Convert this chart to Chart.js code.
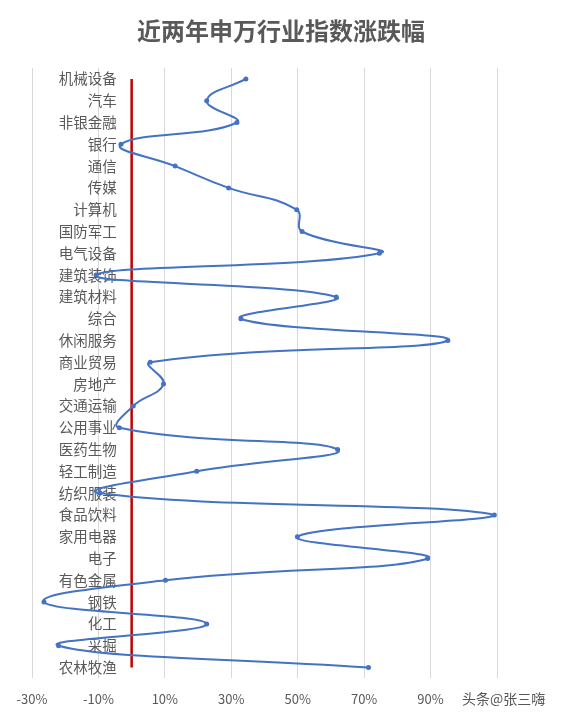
<!DOCTYPE html>
<html>
<head>
<meta charset="utf-8">
<script src="https://cdn.jsdelivr.net/npm/chart.js@4"></script>
<style>
  html, body { margin: 0; padding: 0; background: #fff; }
  #wrap { width: 562px; height: 716px; }
</style>
</head>
<body>
<div id="wrap"><canvas id="chgChart"></canvas></div>
<script>
const industries = ['机械设备', '汽车', '非银金融', '银行', '通信', '传媒', '计算机', '国防军工',
    '电气设备', '建筑装饰', '建筑材料', '综合', '休闲服务', '商业贸易', '房地产', '交通运输',
    '公用事业', '医药生物', '轻工制造', '纺织服装', '食品饮料', '家用电器', '电子', '有色金属',
    '钢铁', '化工', '采掘', '农林牧渔'];

// percent change over two years
const changes = [34.4, 22.6, 31.7, -3.2, 13.1, 29.2, 49.7, 51.3,
    74.6, -10.7, 61.6, 32.9, 95.2, 5.6, 9.6, 0.5,
    -3.7, 62.0, 19.6, -9.5, 109.2, 49.9, 89.1, 10.2,
    -26.4, 22.6, -22.0, 71.3];

const xTicks = [-30, -10, 10, 30, 50, 70, 90, 110];
const xTickLabels = ['-30%', '-10%', '10%', '30%', '50%', '70%', '90%', ''];

const FONT = '"Noto Sans CJK SC", "Noto Sans", sans-serif';
const TITLE = '近两年申万行业指数涨跌幅';

let zeroLine = [
    {x: 0, y: industries[0]},
    {x: 0, y: industries[industries.length - 1]}
];

// title centred on the whole canvas + watermark in the corner
const decorations = {
    id: 'decorations',
    afterDraw(chart) {
        let ctx = chart.ctx;
        ctx.save();
        ctx.font = 'bold 24px ' + FONT;
        ctx.fillStyle = '#595959';
        ctx.textAlign = 'center';
        ctx.textBaseline = 'middle';
        ctx.fillText(TITLE, chart.width / 2, 31);

        ctx.font = '14px ' + FONT;
        ctx.fillStyle = '#555';
        ctx.textAlign = 'left';
        ctx.shadowColor = 'rgba(255,255,255,0.9)';
        ctx.shadowBlur = 2;
        ctx.fillText('头条@张三嗨', 462, 699);
        ctx.restore();
    }
};

let chart = new Chart(document.getElementById('chgChart').getContext('2d'), {
    type: 'line',
    data: {
        labels: industries,
        datasets: [
            {
                label: '涨跌幅',
                data: changes,
                borderColor: '#4472C4',
                backgroundColor: '#4472C4',
                borderWidth: 2,
                pointRadius: 2.5,
                pointBorderWidth: 0,
                tension: 0.45,
                order: 0
            },
            {
                label: '零轴',
                data: zeroLine,
                borderColor: '#C00000',
                borderWidth: 2.5,
                pointRadius: 0,
                order: 1
            }
        ]
    },
    options: {
        indexAxis: 'y',
        responsive: true,
        maintainAspectRatio: false,
        animation: false,
        layout: {
            padding: {top: 68, left: 32, right: 65, bottom: -4}
        },
        plugins: {
            legend: {display: false},
            tooltip: {enabled: false},
            title: {display: false}
        },
        scales: {
            x: {
                type: 'linear',
                min: xTicks[0],
                max: xTicks[xTicks.length - 1],
                afterBuildTicks: axis => {
                    axis.ticks = xTicks.map(v => ({value: v}));
                },
                ticks: {
                    color: '#595959',
                    font: {family: FONT, size: 13},
                    padding: 13,
                    maxRotation: 0,
                    callback: (value, index) => xTickLabels[index]
                },
                grid: {
                    color: '#D9D9D9',
                    lineWidth: 1,
                    drawTicks: false
                },
                border: {display: false}
            },
            y: {
                type: 'category',
                // labels sit just left of the zero line
                position: {x: -4.5},
                offset: true,
                ticks: {
                    color: '#595959',
                    font: {family: FONT, size: 14.5},
                    autoSkip: false
                },
                grid: {display: false, drawTicks: false},
                border: {display: false}
            }
        }
    },
    plugins: [decorations]
});
</script>
</body>
</html>
